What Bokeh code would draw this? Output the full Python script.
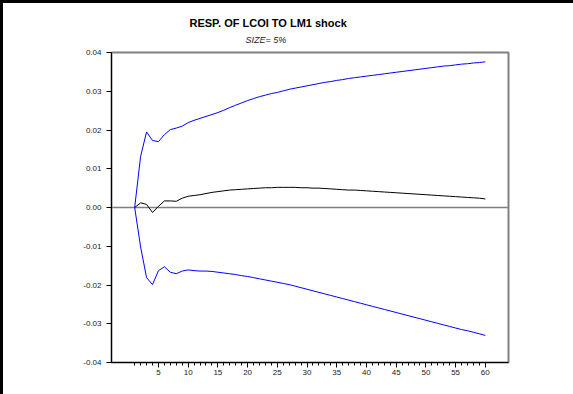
from bokeh.plotting import figure
from bokeh.models import FixedTicker, PrintfTickFormatter, Span, Title, Range1d, InlineStyleSheet
from bokeh.embed import file_html
from bokeh.resources import INLINE

# Impulse response of LCOI to an LM1 shock, with 5% bands
periods = list(range(1, 61))

response = [
    0.0000, 0.0012, 0.0008, -0.0013, 0.0003, 0.0017, 0.0017, 0.0016, 0.0024, 0.0029,
    0.0031, 0.0033, 0.0036, 0.0039, 0.0041, 0.0043, 0.0045, 0.0046, 0.0047, 0.0048,
    0.0049, 0.0050, 0.0051, 0.0051, 0.0052, 0.0052, 0.0052, 0.0052, 0.0051, 0.0051,
    0.0050, 0.0050, 0.0049, 0.0048, 0.0047, 0.0046, 0.0045, 0.0045, 0.0044, 0.0043,
    0.0042, 0.0041, 0.0040, 0.0039, 0.0038, 0.0037, 0.0036, 0.0035, 0.0034, 0.0033,
    0.0032, 0.0031, 0.0030, 0.0029, 0.0028, 0.0027, 0.0026, 0.0025, 0.0024, 0.0022,
]

upper_band = [
    0.0000, 0.0132, 0.0195, 0.0173, 0.0170, 0.0188, 0.0201, 0.0205, 0.0210, 0.0219,
    0.0225, 0.0230, 0.0235, 0.0240, 0.0245, 0.0251, 0.0258, 0.0264, 0.0270, 0.0276,
    0.0281, 0.0286, 0.0290, 0.0294, 0.0297, 0.0301, 0.0305, 0.0308, 0.0311, 0.0314,
    0.0317, 0.0320, 0.0323, 0.0325, 0.0328, 0.0330, 0.0333, 0.0335, 0.0337, 0.0339,
    0.0341, 0.0343, 0.0345, 0.0347, 0.0349, 0.0351, 0.0353, 0.0355, 0.0357, 0.0359,
    0.0361, 0.0363, 0.0365, 0.0366, 0.0368, 0.0370, 0.0371, 0.0373, 0.0374, 0.0376,
]

lower_band = [
    0.0000, -0.0102, -0.0181, -0.0199, -0.0163, -0.0153, -0.0167, -0.0171, -0.0164, -0.0161,
    -0.0163, -0.0164, -0.0164, -0.0165, -0.0167, -0.0169, -0.0171, -0.0173, -0.0176, -0.0178,
    -0.0181, -0.0184, -0.0187, -0.0190, -0.0193, -0.0196, -0.0199, -0.0203, -0.0207, -0.0211,
    -0.0215, -0.0219, -0.0223, -0.0227, -0.0231, -0.0235, -0.0239, -0.0243, -0.0247, -0.0251,
    -0.0255, -0.0259, -0.0263, -0.0267, -0.0271, -0.0275, -0.0279, -0.0283, -0.0287, -0.0291,
    -0.0295, -0.0299, -0.0303, -0.0307, -0.0311, -0.0315, -0.0318, -0.0322, -0.0326, -0.0330,
]

y_ticks = [-0.04, -0.03, -0.02, -0.01, 0.0, 0.01, 0.02, 0.03, 0.04]
x_major = list(range(5, 61, 5))
x_minor = list(range(1, 61))

FONT = "Liberation Sans"

# white page with a black edge along the top and left
page_edge = InlineStyleSheet(css=":host { background-color: white; box-shadow: inset 3px 3px 0 0 black; }")

p = figure(
    width=573, height=394,
    output_backend="svg", toolbar_location=None,
    x_range=Range1d(-2.9, 63.9), y_range=Range1d(-0.04, 0.04),
    min_border_left=111, min_border_right=65, min_border_top=52, min_border_bottom=32,
    stylesheets=[page_edge],
)
p.grid.visible = False
p.background_fill_color = "white"
p.border_fill_color = None
p.outline_line_color = "#808080"
p.outline_line_width = 2

# subtitle next to the frame (short panel, text hung from its top), main title above it
p.add_layout(Title(text="SIZE= 5%", text_font=FONT, text_font_size="9px",
                   text_font_style="italic", text_color="#222222",
                   align="left", offset=134, standoff=12,
                   vertical_align="top", text_line_height=0.3), "above")
p.add_layout(Title(text="RESP. OF LCOI TO LM1 shock", text_font=FONT, text_font_size="11px",
                   text_font_style="bold", text_color="black",
                   align="left", offset=78, standoff=0), "above")

zero = Span(location=0, dimension="width", line_color="#808080", line_width=1.5, level="underlay")
p.add_layout(zero)

p.line(periods, upper_band, line_color="#0000ff", line_width=1)
p.line(periods, lower_band, line_color="#0000ff", line_width=1)
p.line(periods, response, line_color="black", line_width=1)

xa = p.xaxis[0]
xa.ticker = FixedTicker(ticks=x_major, minor_ticks=x_minor)
xa.major_tick_out = 5
xa.major_tick_in = 0
xa.minor_tick_out = 3
xa.minor_tick_in = 0
xa.axis_line_color = "black"
xa.major_tick_line_color = "black"
xa.minor_tick_line_color = "black"
xa.major_label_text_font = FONT
xa.major_label_text_font_size = "8px"
xa.major_label_text_color = "#222222"
xa.major_label_standoff = 2

ya = p.yaxis[0]
ya.ticker = FixedTicker(ticks=y_ticks, minor_ticks=[])
ya.formatter = PrintfTickFormatter(format="%.2f")
ya.major_tick_out = 5
ya.major_tick_in = 0
ya.minor_tick_out = 0
ya.minor_tick_in = 0
ya.axis_line_color = "black"
ya.major_tick_line_color = "black"
ya.major_label_text_font = FONT
ya.major_label_text_font_size = "8px"
ya.major_label_text_color = "#222222"
ya.major_label_standoff = 5

open("out.html", "w").write(file_html(p, INLINE))
